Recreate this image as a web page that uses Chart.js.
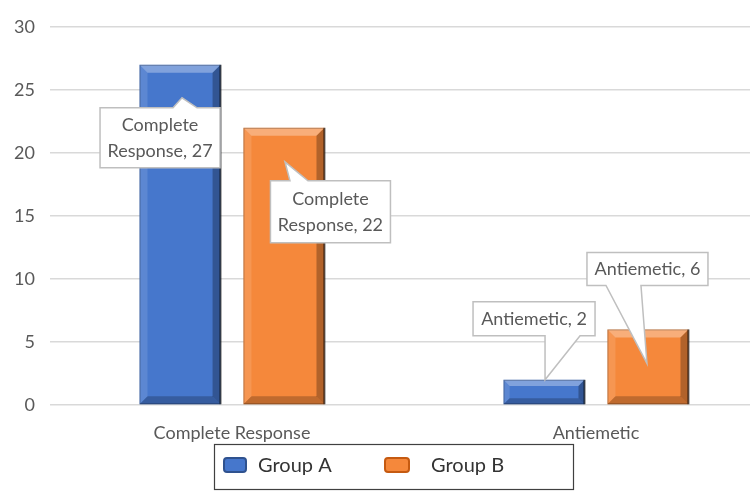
<!DOCTYPE html>
<html>
<head>
<meta charset="utf-8">
<script src="https://cdn.jsdelivr.net/npm/chart.js@4.4.1/dist/chart.umd.min.js"></script>
<style>
  html, body { margin: 0; padding: 0; background: #fff; overflow: hidden; }
  #wrap { position: absolute; left: 0; top: 0; width: 790px; height: 494px; }
</style>
</head>
<body>
<div id="wrap"><canvas id="c"></canvas></div>
<script>
const categories = ['Complete Response', 'Antiemetic'];
const seriesNames = ['Group A', 'Group B'];
const groupA = [27, 2];
const groupB = [22, 6];
const yMin = 0, yMax = 30, yStep = 5;

const FONT = 'Lato, "Open Sans", sans-serif';
const fills = ['#4677CC', '#F5883B'];
const edges = ['#2F528F', '#C55A11'];

// callout placement per [dataset][index] relative to bar center (cx) and bar top (ty)
const callouts = [
  [
    { lines: (c, v) => [c.split(' ')[0], c.split(' ')[1] + ', ' + v], dx: -80, dy: 43, w: 120, h: 60, side: 'top', b1: -7, b2: 17, tx: 2, ty: 33 },
    { lines: (c, v) => [c + ', ' + v], dx: -71, dy: -78, w: 122, h: 34, side: 'bottom', b1: 1, b2: 36, tx: 1, ty: 0 }
  ],
  [
    { lines: (c, v) => [c.split(' ')[0], c.split(' ')[1] + ', ' + v], dx: -13.5, dy: 53, w: 120, h: 62, side: 'top', b1: 6, b2: 24, tx: 1, ty: 34 },
    { lines: (c, v) => [c + ', ' + v], dx: -61, dy: -77, w: 121, h: 33, side: 'bottom', b1: -42, b2: -7, tx: -1, ty: 34 }
  ]
];

const bevelPlugin = {
  id: 'bevel',
  afterDatasetsDraw(chart) {
    const ctx = chart.ctx;
    chart.data.datasets.forEach((ds, di) => {
      chart.getDatasetMeta(di).data.forEach(bar => {
        const x0 = bar.x - bar.width / 2, x1 = bar.x + bar.width / 2;
        const y0 = bar.y, y1 = bar.base;
        const b = Math.min(8, (y1 - y0) / 4);
        const poly = (pts, col) => {
          ctx.beginPath();
          ctx.moveTo(pts[0][0], pts[0][1]);
          for (let i = 1; i < pts.length; i++) ctx.lineTo(pts[i][0], pts[i][1]);
          ctx.closePath();
          ctx.fillStyle = col; ctx.fill();
        };
        ctx.save();
        poly([[x0, y0], [x1, y0], [x1 - b, y0 + b], [x0 + b, y0 + b]], 'rgba(255,255,255,0.32)');
        poly([[x0, y0], [x0 + b, y0 + b], [x0 + b, y1 - b], [x0, y1]], 'rgba(255,255,255,0.12)');
        poly([[x1, y0], [x1, y1], [x1 - b, y1 - b], [x1 - b, y0 + b]], 'rgba(0,0,0,0.28)');
        poly([[x0, y1], [x1, y1], [x1 - b, y1 - b], [x0 + b, y1 - b]], 'rgba(0,0,0,0.22)');
        ctx.strokeStyle = 'rgba(0,0,0,0.55)'; ctx.lineWidth = 2;
        ctx.beginPath(); ctx.moveTo(x1, y0); ctx.lineTo(x1, y1); ctx.stroke();
        ctx.strokeStyle = 'rgba(0,0,0,0.25)'; ctx.lineWidth = 1;
        ctx.strokeRect(x0 + 0.5, y0 + 0.5, bar.width - 1, y1 - y0 - 1);
        ctx.restore();
      });
    });
    // callouts
    chart.data.datasets.forEach((ds, di) => {
      chart.getDatasetMeta(di).data.forEach((bar, i) => {
        const cfg = callouts[di][i];
        const cx = bar.x, ty = bar.y;
        const L = cx + cfg.dx, T = ty + cfg.dy, R = L + cfg.w, B = T + cfg.h;
        const tipX = cx + cfg.tx, tipY = ty + cfg.ty;
        const bx1 = cx + cfg.b1, bx2 = cx + cfg.b2;
        ctx.save();
        ctx.beginPath();
        if (cfg.side === 'top') {
          ctx.moveTo(L, T); ctx.lineTo(bx1, T); ctx.lineTo(tipX, tipY); ctx.lineTo(bx2, T);
          ctx.lineTo(R, T); ctx.lineTo(R, B); ctx.lineTo(L, B);
        } else {
          ctx.moveTo(L, T); ctx.lineTo(R, T); ctx.lineTo(R, B); ctx.lineTo(bx2, B);
          ctx.lineTo(tipX, tipY); ctx.lineTo(bx1, B); ctx.lineTo(L, B);
        }
        ctx.closePath();
        ctx.fillStyle = '#ffffff'; ctx.fill();
        ctx.strokeStyle = '#bfbfbf'; ctx.lineWidth = 1.5; ctx.stroke();
        const lines = cfg.lines(chart.data.labels[i], ds.data[i]);
        ctx.fillStyle = '#595959';
        ctx.font = '18px ' + FONT;
        ctx.textAlign = 'center'; ctx.textBaseline = 'middle';
        const lh = 26;
        const mid = (T + B) / 2;
        lines.forEach((ln, k) => {
          ctx.fillText(ln, (L + R) / 2, mid + (k - (lines.length - 1) / 2) * lh);
        });
        ctx.restore();
      });
    });
  },
  afterDraw(chart) {
    const ctx = chart.ctx;
    ctx.save();
    ctx.strokeStyle = '#404040'; ctx.lineWidth = 1.2;
    ctx.strokeRect(214.5, 444.5, 359, 45);
    const items = [{ x: 224, w: 22, tx: 258 }, { x: 385, w: 24, tx: 431 }];
    chart.data.datasets.forEach((ds, di) => {
      const it = items[di];
      ctx.beginPath();
      ctx.roundRect(it.x, 458, it.w, 14, 3);
      ctx.fillStyle = fills[di]; ctx.fill();
      ctx.strokeStyle = edges[di]; ctx.lineWidth = 2; ctx.stroke();
      ctx.fillStyle = '#333333';
      ctx.font = '20px ' + FONT;
      ctx.textAlign = 'left'; ctx.textBaseline = 'middle';
      ctx.fillText(ds.label, it.tx, 466);
    });
    ctx.restore();
  }
};

new Chart(document.getElementById('c'), {
  type: 'bar',
  data: {
    labels: categories,
    datasets: [
      { label: seriesNames[0], data: groupA, backgroundColor: fills[0] },
      { label: seriesNames[1], data: groupB, backgroundColor: fills[1] }
    ]
  },
  options: {
    responsive: true,
    maintainAspectRatio: false,
    animation: false,
    devicePixelRatio: 1,
    categoryPercentage: 0.571,
    barPercentage: 0.78,
    layout: { padding: { top: 27, right: 12, bottom: 39, left: 0 } },
    plugins: { legend: { display: false }, tooltip: { enabled: false } },
    scales: {
      x: {
        grid: { display: false, drawTicks: false },
        border: { display: false },
        ticks: { font: { family: FONT, size: 18 }, color: '#595959', padding: 17 },
        afterFit(s) { s.height = 50; }
      },
      y: {
        min: yMin, max: yMax,
        ticks: { stepSize: yStep, font: { family: FONT, size: 18 }, color: '#595959', padding: 15 },
        grid: { color: '#d9d9d9', lineWidth: 1.5, drawTicks: false },
        border: { display: false },
        afterFit(s) { s.width = 50; }
      }
    }
  },
  plugins: [bevelPlugin]
});
</script>
</body>
</html>
